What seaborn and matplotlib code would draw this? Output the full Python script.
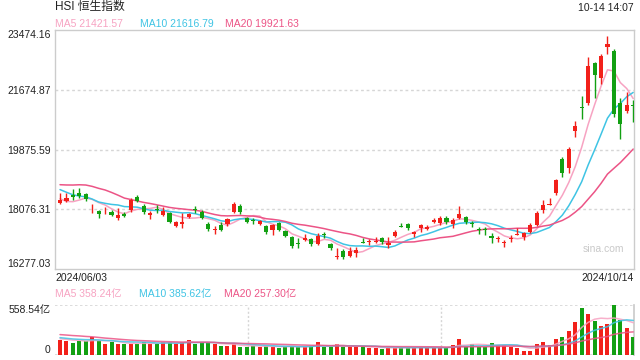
import numpy as np
import pandas as pd
import matplotlib
matplotlib.use("Agg")
import matplotlib.pyplot as plt
import seaborn as sns

# 恒生指数 日K  2024/06/03 - 2024/10/14 
open_ = [18265, 18325, 18505, 18566, 18536, 18130, 18024, 18070, 17994, 17813,
         17933, 18054, 18445, 18174, 17903, 18060, 17903, 17963, 17572, 17632,
         17843, 18060, 17994, 17632, 17440, 17602, 17632, 17994, 18174, 17813,
         17735, 17632, 17572, 17452, 17662, 17421, 17241, 17040, 17150, 17181,
         17030, 17310, 17030, 16630, 16819, 16669, 16759, 17065, 17080, 17080,
         17211, 17000, 17271, 17547, 17632, 17331, 17512, 17482, 17692, 17662,
         17813, 17632, 17813, 17843, 17640, 17460, 17460, 17271, 17170, 17050,
         17170, 17295, 17241, 17391, 17602, 18054, 18200, 18566, 19590, 19319,
         20433, 21140, 21276, 22480, 22029, 22962, 22842, 21276, 21035, 21200]
high = [18566, 18566, 18686, 18716, 18566, 18234, 18054, 18144, 18054, 18114,
        17994, 18415, 18505, 18234, 18024, 18204, 18144, 17994, 17723, 17963,
        17963, 18174, 18054, 17692, 17572, 17692, 17813, 18295, 18234, 17843,
        17813, 17753, 17602, 17632, 17692, 17452, 17271, 17211, 17331, 17211,
        17361, 17391, 17060, 16909, 16879, 16940, 16940, 17211, 17181, 17241,
        17241, 17241, 17452, 17662, 17662, 17421, 17632, 17602, 17813, 17873,
        17873, 17813, 18174, 17873, 17723, 17542, 17542, 17361, 17271, 17150,
        17301, 17512, 17391, 17662, 18024, 18355, 18415, 18987, 19650, 19951,
        20734, 21487, 22661, 22510, 22751, 23300, 22902, 21427, 21607, 21366]
low = [18234, 18295, 18355, 18415, 18325, 17963, 17813, 17933, 17873, 17753,
       17843, 17994, 18295, 17933, 17783, 17963, 17873, 17662, 17542, 17512,
       17813, 17963, 17783, 17421, 17331, 17421, 17572, 17963, 17933, 17662,
       17632, 17602, 17331, 17301, 17421, 17241, 16909, 16909, 17120, 16970,
       17000, 17211, 16849, 16578, 16578, 16638, 16638, 17060, 17000, 17060,
       17030, 16909, 17241, 17542, 17452, 17241, 17391, 17452, 17662, 17602,
       17632, 17512, 17783, 17632, 17542, 17331, 17301, 17060, 17090, 16940,
       17090, 17295, 17150, 17361, 17572, 17963, 18200, 18505, 19048, 19168,
       20252, 20794, 21216, 21427, 21848, 22751, 20850, 20192, 20975, 20704]
close = [18355, 18415, 18445, 18475, 18385, 18144, 17933, 18084, 17903, 17903,
         17873, 18355, 18325, 17994, 17963, 18054, 18024, 17692, 17692, 17692,
         17933, 18054, 17813, 17482, 17452, 17452, 17783, 18234, 17994, 17692,
         17723, 17723, 17391, 17602, 17452, 17271, 16970, 17030, 17211, 17030,
         17271, 17301, 16909, 16638, 16638, 16819, 16849, 17060, 17090, 17090,
         17090, 17060, 17391, 17542, 17512, 17391, 17602, 17542, 17753, 17813,
         17692, 17753, 17933, 17692, 17632, 17452, 17452, 17211, 17181, 17060,
         17181, 17301, 17361, 17602, 17963, 18204, 18204, 18957, 19168, 19891,
         20583, 21125, 22390, 22119, 22691, 23052, 20945, 20644, 21216, 21186]
# 成交额 (亿)
volume = [168, 156, 137, 160, 156, 197, 160, 126, 149, 126,
          126, 126, 126, 149, 126, 126, 149, 141, 126, 149,
          168, 126, 141, 141, 126, 104, 104, 126, 93, 93,
          100, 93, 104, 93, 82, 93, 100, 93, 93, 100,
          149, 93, 93, 123, 93, 93, 93, 93, 82, 82,
          71, 82, 82, 82, 82, 82, 93, 82, 82, 82,
          82, 112, 179, 93, 119, 93, 93, 134, 112, 112,
          93, 82, 45, 45, 123, 149, 112, 179, 201, 268,
          369, 525, 458, 380, 324, 346, 558.54, 391, 305, 205]

# 前 19 个交易日, 只用来算均线
prev_close = [18578, 18479, 18314, 18538, 18964, 19115, 19073, 19376, 19553, 19636,
              19221, 19195, 18868, 18609, 18827, 18821, 18477, 18230, 18079]
prev_volume = [260, 250, 240, 270, 280, 300, 270, 260, 250, 240,
               230, 210, 200, 190, 200, 190, 180, 170, 200]

title = "HSI 恒生指数"
stamp = "10-14 14:07"
ma_labels = ["MA5 21421.57", "MA10 21616.79", "MA20 19921.63"]
vol_labels = ["MA5 358.24亿", "MA10 385.62亿", "MA20 257.30亿"]
price_ticks = [16277.03, 18076.31, 19875.59, 21674.87, 23474.16]
vol_top = 558.54
date_first, date_last = "2024/06/03", "2024/10/14"

sns.set_theme(style="white")
plt.rcParams["font.family"] = ["Liberation Sans", "Noto Sans CJK SC"]

RED = "#f2201a"
GREEN = "#12a012"
MA_COLORS = ["#f7a3c2", "#3fc4e4", "#ec5486"]
GRID = "#d6d6d6"
FRAME = "#cccccc"

df = pd.DataFrame({"open": open_, "high": high, "low": low, "close": close, "vol": volume})
df["i"] = np.arange(len(df))
n0 = len(prev_close)
allc = pd.Series(prev_close + close, dtype=float)
allv = pd.Series(prev_volume + volume, dtype=float)
for w in (5, 10, 20):
    df[f"ma{w}"] = allc.rolling(w).mean().iloc[n0:].values
    df[f"vma{w}"] = allv.rolling(w).mean().iloc[n0:].values
df["color"] = np.where(df["close"] >= df["open"], RED, GREEN)

fig = plt.figure(figsize=(6.4, 3.6), dpi=100)
ax = fig.add_axes([55 / 640, 1 - 269 / 360, 579 / 640, 239 / 360])
axv = fig.add_axes([55 / 640, 1 - 355 / 360, 579 / 640, 50 / 360])
x0, x1 = -0.78, 89.12

# K线
body_lo = df[["open", "close"]].min(axis=1)
body_h = (df["close"] - df["open"]).abs().clip(lower=28)
ax.vlines(df["i"], df["low"], df["high"], colors=df["color"], lw=1, zorder=3)
ax.bar(df["i"], body_h, bottom=body_lo, width=0.64, color=df["color"], lw=0, zorder=3)

for w, c in zip((5, 10, 20), MA_COLORS):
    sns.lineplot(x=df["i"], y=df[f"ma{w}"], ax=ax, color=c, lw=1.1, zorder=2)

for v in price_ticks[1:4]:
    ax.axhline(v, color=GRID, lw=1, ls=(0, (2, 2)), zorder=0)

ax.set_xlim(x0, x1)
ax.set_ylim(price_ticks[0], price_ticks[-1])
ax.set_yticks(price_ticks)
ax.set_yticklabels([f"{v:.2f}" for v in price_ticks])
ax.set_xticks([])
ax.set_xlabel("")
ax.set_ylabel("")
ax.tick_params(axis="y", length=0, pad=3, labelsize=7.5, labelcolor="#222222")
lbl = ax.get_yticklabels()
lbl[0].set_va("bottom")
lbl[-1].set_va("top")
for s in ax.spines.values():
    s.set_color(FRAME)
    s.set_linewidth(1)

# 成交额
axv.bar(df["i"], df["vol"], width=0.62, color=df["color"], lw=0, zorder=3)
for w, c in zip((5, 10, 20), MA_COLORS):
    sns.lineplot(x=df["i"], y=df[f"vma{w}"], ax=axv, color=c, lw=1.1, alpha=0.85, zorder=4)
axv.axhline(vol_top, color=GRID, lw=1.2, ls=(0, (1.5, 1.5)), zorder=0)
axv.axhline(0, color=GRID, lw=1.2, ls=(0, (1.5, 1.5)), zorder=0)
for f in (1 / 3, 2 / 3):
    axv.axvline(x0 + f * (x1 - x0), color=GRID, lw=1, ls=(0, (1.5, 1.5)), zorder=0)
axv.set_xlim(x0, x1)
axv.set_ylim(0, vol_top)
axv.set_yticks([0, vol_top])
axv.set_yticklabels(["0", f"{vol_top:.2f}亿"])
axv.set_xticks([])
axv.set_xlabel("")
axv.set_ylabel("")
axv.tick_params(axis="y", length=0, pad=3, labelsize=7.5, labelcolor="#222222")
vl = axv.get_yticklabels()
vl[0].set_va("bottom")
vl[1].set_va("top")
for k, s in axv.spines.items():
    s.set_visible(k == "right")
    s.set_color(FRAME)

# 文字
fig.text(55 / 640, 1 - 7 / 360, title, fontsize=8.5, va="center", color="#222222")
fig.text(634 / 640, 1 - 8 / 360, stamp, fontsize=7.5, va="center", ha="right", color="#222222")
for xp, t, c in zip((55, 140, 225), ma_labels, MA_COLORS):
    fig.text(xp / 640, 1 - 24 / 360, t, fontsize=7.5, va="center", color=c)
for xp, t, c in zip((55, 139, 224), vol_labels, MA_COLORS):
    fig.text(xp / 640, 1 - 294 / 360, t, fontsize=7.5, va="center", color=c)
fig.text(55 / 640, 1 - 278 / 360, date_first, fontsize=7.5, va="center", color="#222222")
fig.text(634 / 640, 1 - 278 / 360, date_last, fontsize=7.5, va="center", ha="right", color="#222222")
fig.text(603 / 640, 1 - 249 / 360, "sina.com", fontsize=7.5, va="center", ha="center", color="#c9c9c9")

fig.savefig("out.png", dpi=100)
